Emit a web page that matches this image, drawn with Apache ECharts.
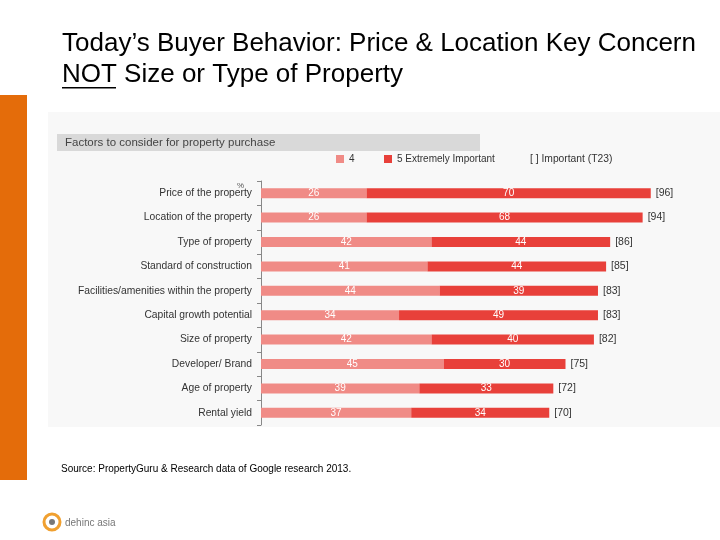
<!DOCTYPE html>
<html>
<head>
<meta charset="utf-8">
<script src="https://cdn.jsdelivr.net/npm/echarts@6/dist/echarts.min.js"></script>
<style>html,body{margin:0;padding:0;background:#fff}#c{width:720px;height:540px}</style>
</head>
<body>
<div id="c"></div>
<script>
var categories = ["Price of the property","Location of the property","Type of property","Standard of construction","Facilities/amenities within the property","Capital growth potential","Size of property","Developer/ Brand","Age of property","Rental yield"];
var fourValues = [26,26,42,41,44,34,42,45,39,37];
var fiveValues = [70,68,44,44,39,49,40,30,33,34];
var totalValues = [96,94,86,85,83,83,82,75,72,70];
var seriesNames = ["4","5 Extremely Important","[ ] Important (T23)"];

var chart = echarts.init(document.getElementById('c'), null, {renderer:'canvas'});
var txtFont = 'Liberation Sans, Arial, sans-serif';
var option = {
  animation:false,
  backgroundColor:'#ffffff',
  graphic:[
    {type:'rect', shape:{x:0,y:95,width:27,height:385}, style:{fill:'#e46c0a'}, z:0},
    {type:'rect', shape:{x:48,y:112,width:672,height:315}, style:{fill:'#f8f8f8'}, z:0},
    {type:'rect', shape:{x:57,y:134,width:423,height:17}, style:{fill:'#d9d9d9'}, z:1},
    {type:'text', x:65, y:142.5, style:{text:'Factors to consider for property purchase', font:'11.5px '+txtFont, fill:'#444', verticalAlign:'middle'}, z:2},
    {type:'text', x:62, y:44, style:{text:'Today\u2019s Buyer Behavior: Price & Location Key Concern', font:'26px '+txtFont, fill:'#000', verticalAlign:'middle'}, z:2},
    {type:'text', x:62, y:75, style:{text:'NOT Size or Type of Property', font:'26px '+txtFont, fill:'#000', verticalAlign:'middle'}, z:2},
    {type:'rect', shape:{x:62,y:87,width:54,height:1.5}, style:{fill:'#000'}, z:2},
    {type:'text', x:237, y:186, style:{text:'%', font:'8px '+txtFont, fill:'#555', verticalAlign:'middle'}, z:2},
    {type:'text', x:61, y:469, style:{text:'Source: PropertyGuru & Research data of Google research 2013.', font:'10px '+txtFont, fill:'#000', verticalAlign:'middle'}, z:2},
    {type:'circle', shape:{cx:52,cy:522,r:8}, style:{fill:'none', stroke:'#f0a030', lineWidth:3}, z:2},
    {type:'circle', shape:{cx:52,cy:522,r:3}, style:{fill:'#777'}, z:2},
    {type:'text', x:65, y:523, style:{text:'dehinc asia', font:'10px '+txtFont, fill:'#777', verticalAlign:'middle'}, z:2}
  ],
  legend:[
    {data:[{name:seriesNames[0]}], left:331, top:149, itemWidth:8, itemHeight:8, textStyle:{fontSize:10, color:'#333', fontFamily:txtFont}, icon:'rect', selectedMode:false},
    {data:[{name:seriesNames[1]}], left:379, top:149, itemWidth:8, itemHeight:8, textStyle:{fontSize:10, color:'#333', fontFamily:txtFont}, icon:'rect', selectedMode:false},
    {data:[{name:seriesNames[2], icon:'none'}], left:520, top:149, itemWidth:0, itemHeight:8, textStyle:{fontSize:10.3, color:'#333', fontFamily:txtFont}, selectedMode:false}
  ],
  grid:{left:261, top:181, width:406, height:244, containLabel:false},
  xAxis:{type:'value', min:0, max:100, show:false},
  yAxis:{type:'category', data:categories, inverse:true,
    axisLine:{show:true, lineStyle:{color:'#888', width:1}},
    axisTick:{show:true, length:4, inside:false, lineStyle:{color:'#888'}},
    axisLabel:{fontSize:10.3, color:'#333', fontFamily:txtFont, margin:9}
  },
  series:[
    {name:seriesNames[0], type:'bar', stack:'t', data:fourValues, barWidth:10, itemStyle:{color:'#f08b86'},
      label:{show:true, position:'inside', color:'#fff', fontSize:10, fontFamily:txtFont}},
    {name:seriesNames[1], type:'bar', stack:'t', data:fiveValues, barWidth:10, itemStyle:{color:'#e8403a'},
      label:{show:true, position:'inside', color:'#fff', fontSize:10, fontFamily:txtFont}},
    {name:seriesNames[2], type:'bar', stack:'t', data:totalValues.map(function(){return 0;}), barWidth:10, itemStyle:{color:'transparent'},
      label:{show:true, position:'right', distance:5, color:'#333', fontSize:10.5, fontFamily:txtFont,
        formatter:function(p){return '[' + totalValues[p.dataIndex] + ']';}}}
  ]
};
chart.setOption(option);
</script>
</body>
</html>
